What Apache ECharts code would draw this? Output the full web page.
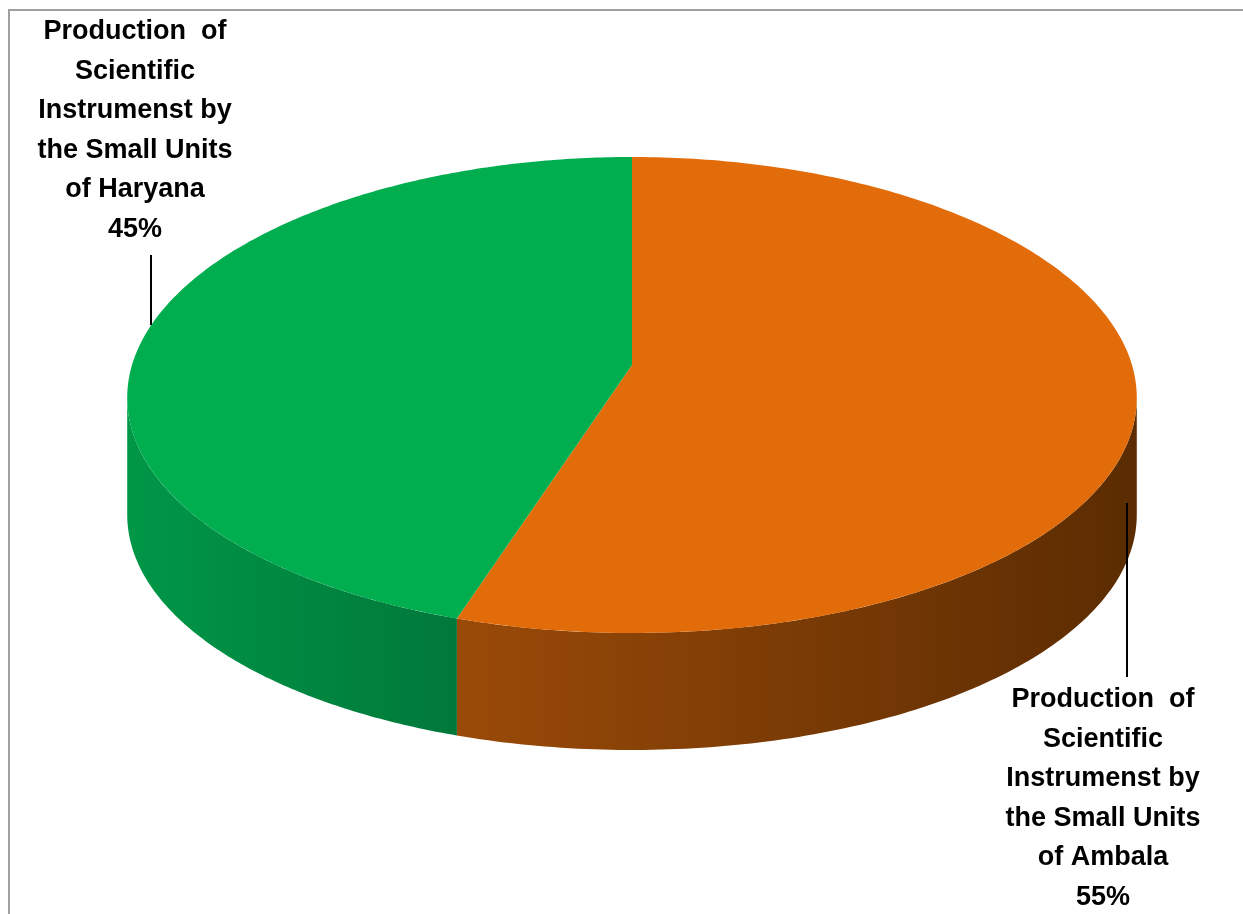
<!DOCTYPE html>
<html>
<head>
<meta charset="utf-8">
<script src="https://cdn.jsdelivr.net/npm/echarts@6/dist/echarts.min.js"></script>
<style>
html,body{margin:0;padding:0;background:#fff;}
#chart{width:1243px;height:914px;}
</style>
</head>
<body>
<div id="chart"></div>
<script>
// ---- data ----
const categories = [
  'Production  of\nScientific\nInstrumenst by\nthe Small Units\nof Ambala',
  'Production  of\nScientific\nInstrumenst by\nthe Small Units\nof Haryana'
];
const values = [55, 45];
const topColors = ['#e36c0a', '#00ad4f'];
const sideColors = [['#9a4a08', '#5b2c02'], ['#009747', '#00783a']];

// ---- layout (pixels) ----
const CX = 632, CY = 365, RX = 500, RY = 238, CURVE = 30, PERSP = 0.14, DEPTH = 117;
const labelLayout = [
  { x: 1103, y: 680, line: [1127, 503, 1127, 677] },
  { x: 135, y: 12, line: [151, 255, 151, 325] }
];

function proj(theta, depth) {
  const u = Math.sin(theta), v = -Math.cos(theta);
  return [CX + RX * u * (1 + PERSP * v), CY + RY * v + CURVE * v * v + depth];
}
// silhouette angle (widest point on the right side)
let SIL = Math.PI / 2, best = -1;
for (let t = Math.PI / 4; t < Math.PI * 3 / 4; t += 0.0005) {
  const w = proj(t, 0)[0];
  if (w > best) { best = w; SIL = t; }
}
const total = values.reduce((a, b) => a + b, 0);

function renderItem(params, api) {
  const i = params.dataIndex;
  let start = 0;
  for (let k = 0; k < i; k++) start += values[k];
  const val = api.value(0);
  const a0 = start / total * Math.PI * 2;
  const a1 = (start + val) / total * Math.PI * 2;
  const children = [];
  // side wall (visible front part only)
  const s0 = Math.max(a0, SIL), s1 = Math.min(a1, Math.PI * 2 - SIL);
  if (s1 > s0) {
    const pts = [];
    const n = 120;
    for (let j = 0; j <= n; j++) pts.push(proj(s0 + (s1 - s0) * j / n, 0));
    for (let j = n; j >= 0; j--) pts.push(proj(s0 + (s1 - s0) * j / n, DEPTH));
    children.push({
      type: 'polygon', shape: { points: pts },
      style: { fill: new echarts.graphic.LinearGradient(0, 0, 1, 0, [
        { offset: 0, color: sideColors[i][0] }, { offset: 1, color: sideColors[i][1] }]) }
    });
  }
  // top face
  const top = [[CX, CY]];
  const n2 = 240;
  for (let j = 0; j <= n2; j++) top.push(proj(a0 + (a1 - a0) * j / n2, 0));
  children.push({ type: 'polygon', shape: { points: top }, style: { fill: topColors[i] } });
  // label + leader
  const L = labelLayout[i];
  children.push({ type: 'line', shape: { x1: L.line[0], y1: L.line[1], x2: L.line[2], y2: L.line[3] },
    style: { stroke: '#000', lineWidth: 2 } });
  children.push({ type: 'text', x: L.x, y: L.y,
    style: { text: api.value(1) + '\n' + Math.round(val / total * 100) + '%',
      fill: '#000', font: 'bold 27px "Liberation Sans Narrow", "Arial Narrow", "Liberation Sans", sans-serif',
      lineHeight: 39.5, align: 'center', verticalAlign: 'top' } });
  return { type: 'group', children };
}

const chart = echarts.init(document.getElementById('chart'), null, { renderer: 'canvas' });
chart.setOption({
  animation: false,
  graphic: [{ type: 'rect', shape: { x: 9, y: 10, width: 1300, height: 1000 },
    style: { fill: 'none', stroke: '#a0a0a0', lineWidth: 2 }, z: -10 }],
  series: [{
    type: 'custom', coordinateSystem: 'none',
    data: values.map((v, i) => [v, categories[i]]),
    renderItem
  }]
});
</script>
</body>
</html>
